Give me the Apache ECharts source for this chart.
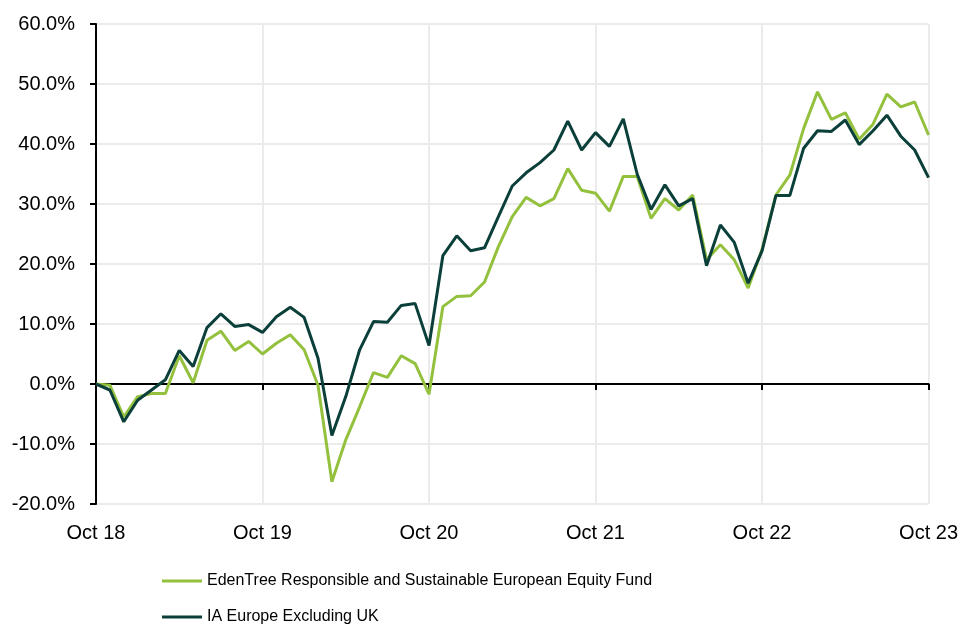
<!DOCTYPE html>
<html>
<head>
<meta charset="utf-8">
<script src="https://cdn.jsdelivr.net/npm/echarts@6/dist/echarts.min.js"></script>
<style>
  html, body {margin: 0; padding: 0; background: #fff;}
  #chart {width: 961px; height: 625px;}
</style>
</head>
<body>
<div id="chart"></div>
<script>
// monthly points Oct 18 .. Oct 23
const yearLabels = ['Oct 18', 'Oct 19', 'Oct 20', 'Oct 21', 'Oct 22', 'Oct 23']
const months = []
for (let i = 0; i <= 60; i++) {
  months.push(i % 12 === 0 ? yearLabels[i / 12] : '')
}

const fundName = 'EdenTree Responsible and Sustainable European Equity Fund'
const sectorName = 'IA Europe Excluding UK'

const fundValues = [
  0.0, -0.2, -5.5, -2.1, -1.6, -1.6, 4.7, 0.2, 7.3, 8.8, 5.6, 7.1, 5.0,
  6.8, 8.2, 5.7, -0.2, -16.3, -9.3, -3.8, 1.9, 1.1, 4.7, 3.4, -1.7,
  12.9, 14.6, 14.7, 17.0, 22.9, 27.9, 31.1, 29.7, 30.9, 35.9, 32.3, 31.8,
  28.8, 34.6, 34.6, 27.6, 30.9, 29.0, 31.5, 20.7, 23.2, 20.7, 16.0, 22.4,
  31.5, 34.8, 42.6, 48.7, 44.1, 45.2, 40.8, 43.3, 48.3, 46.2, 47.0, 41.5
]
const sectorValues = [
  0.0, -1.0, -6.3, -2.7, -1.0, 0.7, 5.6, 2.9, 9.4, 11.7, 9.6, 9.9, 8.6,
  11.2, 12.8, 11.1, 4.3, -8.6, -2.1, 5.7, 10.4, 10.3, 13.1, 13.4, 6.4,
  21.4, 24.7, 22.2, 22.7, 27.9, 33.0, 35.2, 36.9, 39.0, 43.8, 39.0, 41.9,
  39.6, 44.2, 35.0, 29.1, 33.2, 29.7, 30.9, 19.7, 26.5, 23.6, 16.8, 22.2,
  31.4, 31.4, 39.3, 42.2, 42.1, 44.0, 39.9, 42.2, 44.8, 41.3, 39.0, 34.4
]

const chart = echarts.init(document.getElementById('chart'))
const font = 'Liberation Sans, Arial, sans-serif'

const option = {
  animation: false,
  textStyle: {fontFamily: font},
  grid: {left: 96, right: 32, top: 24, bottom: 121},
  legend: {
    orient: 'vertical',
    left: 157,
    top: 567,
    height: 58,
    itemWidth: 40,
    itemHeight: 3,
    itemGap: 18,
    icon: 'rect',
    textStyle: {fontSize: 16, color: '#000', fontFamily: font, lineHeight: 18},
    data: [fundName, sectorName]
  },
  xAxis: [
    {
      type: 'category',
      data: months,
      boundaryGap: false,
      axisLine: {show: false, onZero: false},
      axisTick: {show: false},
      axisLabel: {interval: 11, color: '#000', fontSize: 20, margin: 19, fontFamily: font},
      splitLine: {show: true, interval: 11, lineStyle: {color: '#ebebeb', width: 2}}
    },
    {
      type: 'category',
      data: months,
      boundaryGap: false,
      position: 'bottom',
      axisLine: {show: true, onZero: true, lineStyle: {color: '#000', width: 2}},
      axisTick: {show: true, interval: 11, length: 6, lineStyle: {color: '#000', width: 2}},
      axisLabel: {show: false},
      splitLine: {show: false}
    }
  ],
  yAxis: {
    type: 'value',
    min: -20,
    max: 60,
    interval: 10,
    axisLine: {show: true, lineStyle: {color: '#000', width: 2}},
    axisTick: {show: true, length: 6, lineStyle: {color: '#000', width: 2}},
    axisLabel: {
      color: '#000', fontSize: 20, margin: 21, fontFamily: font,
      formatter: v => v.toFixed(1) + '%'
    },
    splitLine: {show: true, lineStyle: {color: '#ebebeb', width: 2}}
  },
  series: [
    {
      name: fundName,
      type: 'line',
      data: fundValues,
      showSymbol: false,
      symbol: 'none',
      lineStyle: {color: '#93c13e', width: 3},
      itemStyle: {color: '#93c13e'},
      z: 3
    },
    {
      name: sectorName,
      type: 'line',
      data: sectorValues,
      showSymbol: false,
      symbol: 'none',
      lineStyle: {color: '#0b3f3a', width: 3},
      itemStyle: {color: '#0b3f3a'},
      z: 4
    }
  ]
}
chart.setOption(option)
</script>
</body>
</html>
